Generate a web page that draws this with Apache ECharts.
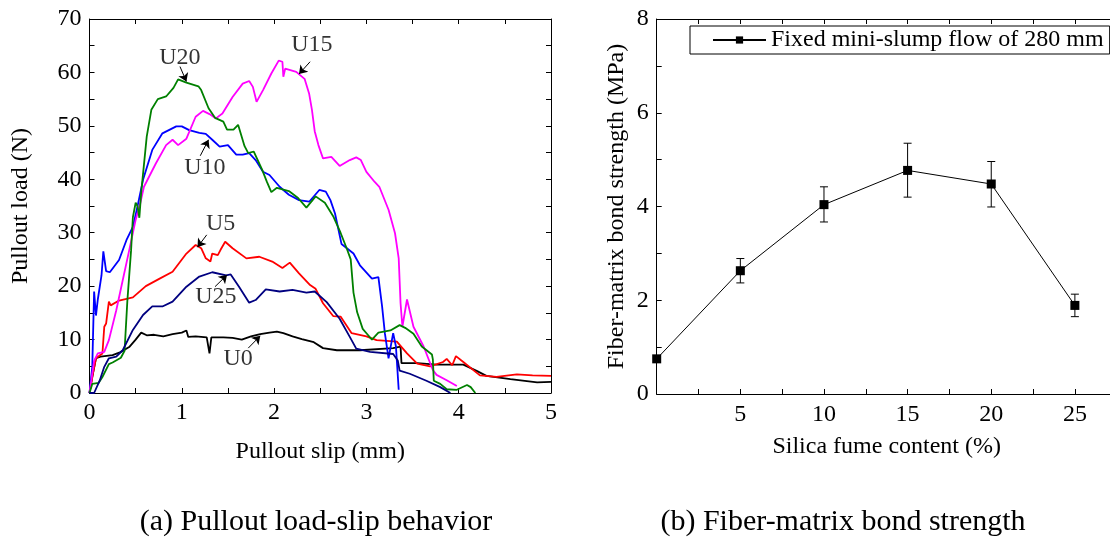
<!DOCTYPE html>
<html>
<head>
<meta charset="utf-8">
<title>Pullout load-slip and bond strength</title>
<script src="https://cdn.jsdelivr.net/npm/echarts@6/dist/echarts.min.js"></script>
<style>
html, body { margin: 0; padding: 0; background: #fff; }
#chart { width: 1110px; height: 539px; }
</style>
</head>
<body>
<div id="chart"></div>
<script>
// (a) pullout curves: [slip (mm), load (N)]
const u0 = [[0,0],[0.03,3],[0.07,6.5],[0.12,6.8],[0.25,7.1],[0.33,7.6],[0.43,8.6],[0.5,10],[0.56,11.3],[0.62,10.8],[0.7,10.9],[0.8,10.6],[0.9,11.0],[1.0,11.3],[1.05,11.7],[1.07,10.5],[1.15,10.6],[1.27,10.4],[1.3,7.4],[1.32,10.4],[1.45,10.4],[1.55,10.3],[1.65,10.0],[1.75,10.6],[1.85,11.0],[1.95,11.3],[2.03,11.5],[2.1,11.2],[2.2,10.6],[2.3,10.1],[2.43,9.5],[2.53,8.4],[2.68,8.0],[2.93,8.0],[3.29,8.4],[3.37,8.7],[3.38,5.6],[3.55,5.6],[3.76,5.3],[4.05,5.3],[4.2,4.1],[4.3,3.2],[4.56,2.6],[4.85,2.0],[5.0,2.1]];
const u5 = [[0,0],[0.04,3.9],[0.07,6.5],[0.14,7.4],[0.16,12.4],[0.18,13],[0.21,17.1],[0.23,16.4],[0.32,17.3],[0.47,17.9],[0.61,20],[0.76,21.4],[0.9,22.7],[1.05,26.1],[1.15,27.7],[1.21,27.1],[1.26,25.2],[1.31,24.6],[1.33,26.1],[1.39,25.8],[1.42,26.8],[1.47,28.3],[1.55,27.1],[1.7,25.2],[1.84,25.5],[1.98,24.6],[2.09,23.4],[2.17,24.4],[2.27,22.4],[2.39,20.2],[2.45,19.5],[2.53,16.8],[2.64,14.4],[2.72,14.3],[2.84,11.2],[3.0,10.6],[3.11,9.9],[3.33,9.6],[3.44,7.4],[3.55,5.5],[3.69,5.0],[3.83,5.8],[3.87,6.4],[3.93,5.2],[3.97,6.9],[4.05,5.8],[4.23,3.3],[4.41,3.0],[4.63,3.5],[4.8,3.3],[5.0,3.2]];
const u10 = [[0,0],[0.03,4.9],[0.05,19],[0.07,14.5],[0.09,17.5],[0.13,22],[0.15,26.5],[0.18,22.8],[0.22,22.6],[0.32,24.9],[0.4,28.6],[0.47,31.1],[0.52,34.9],[0.58,39.9],[0.68,45.5],[0.79,48.6],[0.94,49.9],[1.0,49.9],[1.08,49.2],[1.19,48.7],[1.26,48.5],[1.33,47.4],[1.41,46.1],[1.5,46.4],[1.59,44.6],[1.66,44.6],[1.73,44.9],[1.8,43.6],[1.88,41.4],[1.95,40.8],[2.06,38.6],[2.16,37.1],[2.27,36.1],[2.38,35.8],[2.49,38.0],[2.56,37.7],[2.61,36.1],[2.66,33.6],[2.73,27.9],[2.86,26.1],[2.93,23.9],[3.06,21.4],[3.13,21.7],[3.17,16.2],[3.2,11.2],[3.24,6.5],[3.29,11.2],[3.32,8.7],[3.35,0.6]];
const u15 = [[0,0],[0.05,6],[0.09,7.4],[0.16,7.7],[0.21,9.9],[0.29,15.5],[0.36,21.1],[0.43,26.7],[0.5,32.4],[0.55,35.5],[0.56,35.2],[0.59,38.6],[0.72,43],[0.83,46.4],[0.9,47.4],[0.96,46.4],[1.05,47.6],[1.15,51.7],[1.23,52.8],[1.3,52.2],[1.37,51.4],[1.44,52.3],[1.55,55.4],[1.66,57.9],[1.73,58.4],[1.77,57.3],[1.81,54.5],[1.88,56.7],[1.97,59.8],[2.05,62.2],[2.09,62],[2.1,59.2],[2.12,60.7],[2.24,60.1],[2.33,58.8],[2.38,56],[2.41,53],[2.44,49],[2.48,46.4],[2.53,43.9],[2.62,44.2],[2.71,42.5],[2.82,43.6],[2.89,44.1],[2.94,43.6],[3.0,41.4],[3.09,39.5],[3.14,38.6],[3.24,34.3],[3.31,29.9],[3.35,25.2],[3.37,16.8],[3.39,12.4],[3.44,17.5],[3.51,12.4],[3.62,8.7],[3.72,4.3],[3.76,3.4],[3.87,2.4],[3.98,1.3]];
const u20 = [[0,0],[0.03,1.7],[0.1,1.9],[0.14,3],[0.21,5.4],[0.25,5.7],[0.34,6.6],[0.38,7.9],[0.41,17.2],[0.45,26.6],[0.47,32.9],[0.5,35.6],[0.52,35],[0.54,32.8],[0.56,37.5],[0.62,48],[0.67,53],[0.74,55],[0.83,55.5],[0.91,57.1],[0.96,58.7],[1.05,58.1],[1.18,57.4],[1.21,56.7],[1.29,53.3],[1.36,51.5],[1.45,50.8],[1.49,49.3],[1.56,49.3],[1.61,50.2],[1.68,46.2],[1.72,44.9],[1.78,45.2],[1.87,41.8],[1.92,39.6],[1.97,37.6],[2.03,38.4],[2.16,37.8],[2.26,36.5],[2.35,34.7],[2.45,36.8],[2.55,35.6],[2.64,33.1],[2.72,30],[2.79,26.9],[2.83,25],[2.86,18.8],[2.9,15.1],[2.96,12],[3.01,11.0],[3.06,10],[3.13,11.3],[3.26,11.7],[3.36,12.7],[3.42,12.2],[3.51,11.1],[3.6,8.7],[3.71,7.2],[3.72,6.3],[3.73,2.3],[3.8,1.7],[3.87,0.7],[3.98,0.6],[4.09,1.5],[4.13,1.1],[4.18,0]];
const u25 = [[0,0],[0.05,0],[0.11,2.3],[0.16,4.9],[0.21,6.5],[0.29,6.8],[0.36,8.0],[0.47,11.8],[0.58,14.6],[0.68,16.2],[0.79,16.2],[0.9,17.1],[1.05,19.9],[1.19,21.8],[1.33,22.6],[1.48,22.0],[1.53,22.2],[1.62,19.9],[1.73,16.9],[1.8,17.4],[1.91,19.4],[2.06,19.0],[2.2,19.3],[2.35,18.8],[2.44,19.0],[2.57,17.0],[2.71,13.9],[2.82,10.5],[2.89,8.3],[3.04,7.7],[3.29,7.3],[3.34,6.1],[3.36,4.2],[3.47,3.6],[3.65,2.3],[3.8,1.1],[3.91,0]];

const curveNames = ['U0', 'U5', 'U10', 'U15', 'U20', 'U25'];
const curveData = [u0, u5, u10, u15, u20, u25];
const curveColors = ['#000000', '#ff0000', '#0000ff', '#ff00ff', '#008000', '#000080'];

// curve tags and their arrows, in (slip, load) units
const tagNames = ['U20', 'U15', 'U10', 'U5', 'U25', 'U0'];
const tagPos = [[0.98, 62.7], [2.41, 65.1], [1.25, 42.1], [1.42, 31.6], [1.37, 18.0], [1.61, 6.5]];
const arrowFrom = [[0.98, 61.1], [2.39, 62.0], [1.20, 44.4], [1.27, 29.6], [1.36, 19.9], [1.72, 8.4]];
const arrowTo = [[1.05, 58.3], [2.27, 59.7], [1.29, 47.4], [1.17, 27.3], [1.49, 22.1], [1.85, 10.7]];

// (b) bond strength vs silica fume content
const silicaFume = [0, 5, 10, 15, 20, 25];
const bondStrength = [0.75, 2.63, 4.04, 4.77, 4.48, 1.89];
const bondLow = [null, 2.37, 3.67, 4.20, 3.99, 1.65];
const bondHigh = [null, 2.89, 4.42, 5.35, 4.96, 2.13];

const FONT = "'Liberation Serif', 'Times New Roman', serif";
const chart = echarts.init(document.getElementById('chart'));

function axisBase(extra) {
    return Object.assign({
        type: 'value',
        axisLine: { show: true, onZero: false, lineStyle: { color: '#000', width: 1 } },
        axisTick: { show: true, inside: true, length: 5, lineStyle: { color: '#000' } },
        splitLine: { show: false },
        axisLabel: { show: false },
        nameTextStyle: { color: '#000', fontFamily: FONT, fontSize: 24 },
    }, extra);
}
function labels(fmt, margin) {
    return { show: true, color: '#000', fontFamily: FONT, fontSize: 24, margin: margin, formatter: fmt };
}

const series = curveNames.map((n, i) => ({
    name: n,
    type: 'line',
    xAxisIndex: 0,
    yAxisIndex: 0,
    data: curveData[i],
    showSymbol: false,
    symbol: 'none',
    lineStyle: { color: curveColors[i], width: 1.8 },
    z: 2,
}));

series.push({
    type: 'lines',
    coordinateSystem: 'cartesian2d',
    xAxisIndex: 0,
    yAxisIndex: 0,
    symbol: ['none', 'arrow'],
    symbolSize: 8,
    lineStyle: { color: '#000', width: 1, opacity: 1 },
    data: arrowFrom.map((p, i) => ({ coords: [p, arrowTo[i]] })),
    z: 5,
});
series.push({
    type: 'scatter',
    xAxisIndex: 0,
    yAxisIndex: 0,
    symbolSize: 0,
    data: tagNames.map((t, i) => ({ name: t, value: tagPos[i] })),
    label: { show: true, position: 'inside', formatter: '{b}', color: '#000', fontFamily: FONT, fontSize: 24 },
    z: 5,
});

series.push({
    name: 'Fixed mini-slump flow of 280 mm',
    type: 'line',
    xAxisIndex: 2,
    yAxisIndex: 2,
    data: silicaFume.map((x, i) => [x, bondStrength[i]]),
    symbol: 'rect',
    symbolSize: 9,
    itemStyle: { color: '#000' },
    lineStyle: { color: '#000', width: 1 },
    z: 3,
});
series.push({
    type: 'custom',
    xAxisIndex: 2,
    yAxisIndex: 2,
    data: silicaFume.map((x, i) => [x, bondLow[i], bondHigh[i]]).filter(d => d[1] != null),
    encode: { x: 0, y: [1, 2] },
    renderItem: function (params, api) {
        const top = api.coord([api.value(0), api.value(2)]);
        const bot = api.coord([api.value(0), api.value(1)]);
        const w = 4;
        const st = { stroke: '#000', lineWidth: 1 };
        return {
            type: 'group',
            children: [
                { type: 'line', shape: { x1: top[0], y1: top[1], x2: bot[0], y2: bot[1] }, style: st },
                { type: 'line', shape: { x1: top[0] - w, y1: top[1], x2: top[0] + w, y2: top[1] }, style: st },
                { type: 'line', shape: { x1: bot[0] - w, y1: bot[1], x2: bot[0] + w, y2: bot[1] }, style: st },
            ],
        };
    },
    z: 2,
});

const option = {
    backgroundColor: '#fff',
    animation: false,
    grid: [
        { left: 89.5, top: 19, width: 461.5, height: 374, outerBoundsMode: 'none' },
        // right frame of panel (b) falls just outside the picture
        { left: 656.7, top: 19, width: 460, height: 375, outerBoundsMode: 'none' },
    ],
    legend: {
        data: ['Fixed mini-slump flow of 280 mm'],
        left: 690,
        top: 26,
        selectedMode: false,
        borderColor: '#000',
        borderWidth: 1,
        borderRadius: 0,
        padding: [2, 6, 2, 22],
        itemWidth: 53,
        itemHeight: 9,
        itemGap: 5,
        textStyle: { color: '#000', fontFamily: FONT, fontSize: 24 },
    },
    xAxis: [
        axisBase({ gridIndex: 0, position: 'bottom', min: 0, max: 5, interval: 0.5,
            name: 'Pullout slip (mm)', nameLocation: 'middle', nameGap: 47,
            axisLabel: labels(v => (Number.isInteger(v) ? v : ''), 8) }),
        axisBase({ gridIndex: 0, position: 'top', min: 0, max: 5, interval: 0.5 }),
        axisBase({ gridIndex: 1, position: 'bottom', min: 0, max: 27.5, interval: 2.5,
            name: 'Silica fume content (%)', nameLocation: 'middle', nameGap: 41,
            axisLabel: labels(v => (v > 0 && v % 5 === 0 ? v : ''), 9) }),
        axisBase({ gridIndex: 1, position: 'top', min: 0, max: 27.5, interval: 2.5 }),
    ],
    yAxis: [
        axisBase({ gridIndex: 0, position: 'left', min: 0, max: 70, interval: 5,
            name: 'Pullout load (N)', nameLocation: 'middle', nameGap: 57,
            axisLabel: labels(v => (v % 10 === 0 ? v : ''), 8) }),
        axisBase({ gridIndex: 0, position: 'right', min: 0, max: 70, interval: 5 }),
        axisBase({ gridIndex: 1, position: 'left', min: 0, max: 8, interval: 1,
            name: 'Fiber-matrix bond strength (MPa)', nameLocation: 'middle', nameGap: 28,
            axisLabel: labels(v => (v % 2 === 0 ? v : ''), 8) }),
        axisBase({ gridIndex: 1, position: 'right', min: 0, max: 8, interval: 1 }),
    ],
    graphic: [
        { type: 'text', x: 316, y: 522, style: { text: '(a) Pullout load-slip behavior', fill: '#000',
            font: '30px ' + FONT, textAlign: 'center', textVerticalAlign: 'middle' } },
        { type: 'text', x: 843, y: 522, style: { text: '(b) Fiber-matrix bond strength', fill: '#000',
            font: '30px ' + FONT, textAlign: 'center', textVerticalAlign: 'middle' } },
    ],
    series: series,
};

chart.setOption(option);
</script>
</body>
</html>
